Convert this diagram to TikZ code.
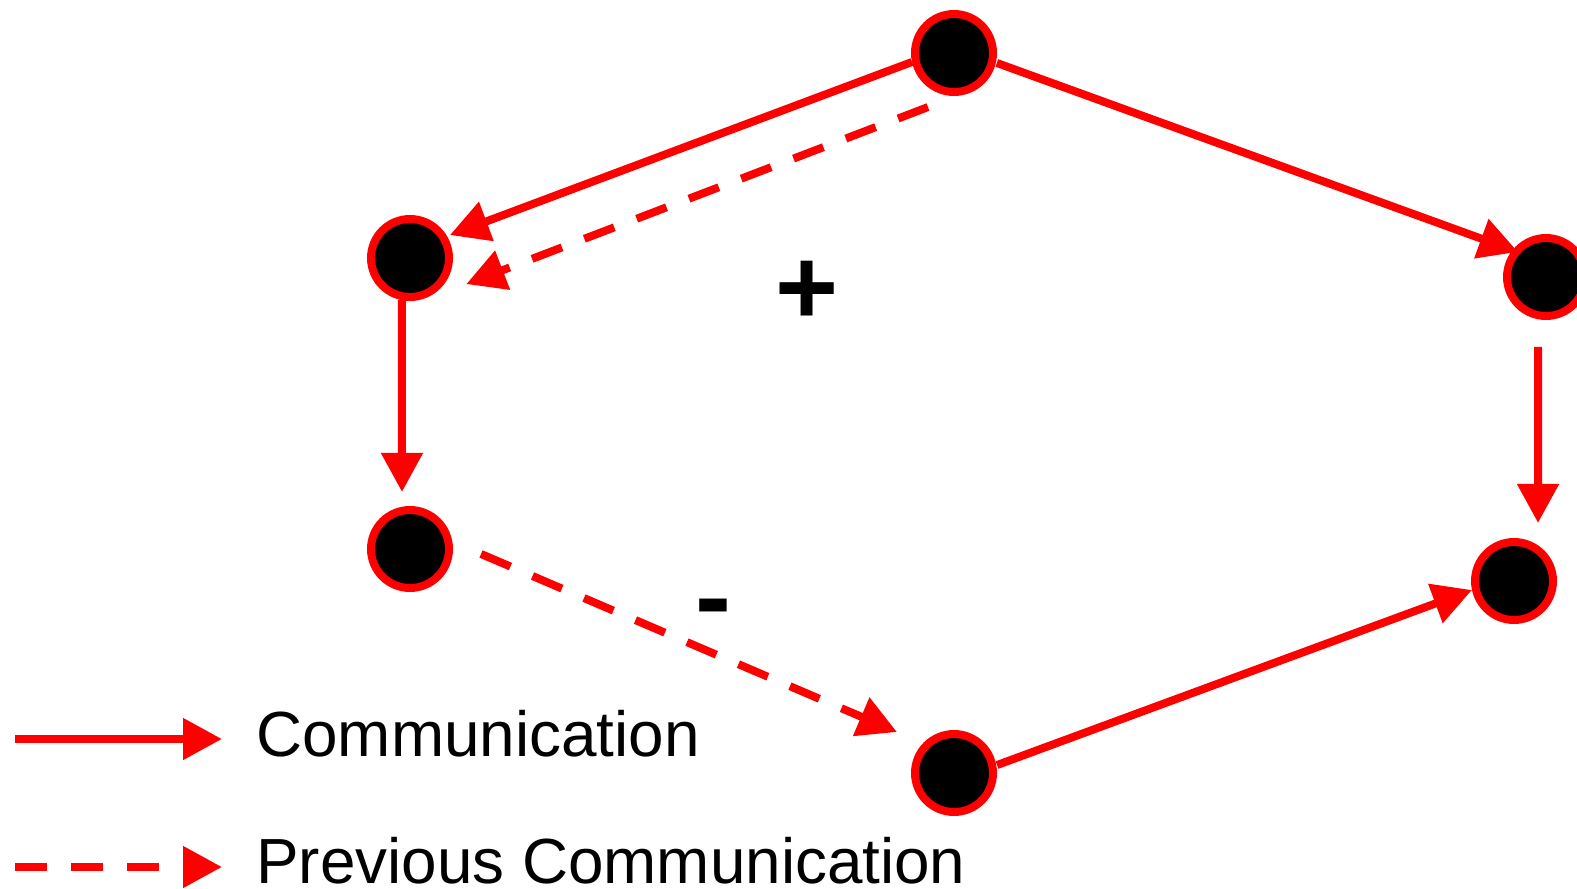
\documentclass[tikz,border=0pt]{standalone}
\usepackage{fontspec}
\setmainfont{Liberation Sans}
\usetikzlibrary{arrows.meta,calc}
\begin{document}
\begin{tikzpicture}[x=0.5pt,y=-0.5pt,
  agent/.style={circle,draw=red,fill=black,line width=4pt,minimum size=39pt,inner sep=0pt},
  comm/.style={draw=red,line width=4pt,-{Triangle[length=19.5pt,width=20pt]}},
  prevcomm/.style={comm,dash pattern=on 16pt off 12pt},
  legendtext/.style={anchor=base west,inner sep=0pt,font=\fontsize{31.9pt}{38pt}\selectfont},
  sign/.style={font=\bfseries\fontsize{54pt}{64pt}\selectfont,inner sep=0pt}]

\useasboundingbox (0,0) rectangle (1577,888);

% agents
\node[agent] (top) at (954,53) {};
\node[agent] (lu)  at (410,258) {};
\node[agent] (ll)  at (410,549) {};
\node[agent] (bot) at (954,773) {};
\node[agent] (ru)  at (1546,277) {};
\node[agent] (rl)  at (1514,581) {};

% communications
\draw[comm] ($(top)+(192.1:21.5pt)$) -- ($(lu)+(29.9:23pt)$);
\draw[prevcomm] ($(top)+(244.3:30pt)$) -- ($(lu)+(-24.9:31pt)$);
\draw[comm] ($(lu)+(259.2:21.4pt)$) -- ($(ll)+(98:28.8pt)$);
\draw[prevcomm] ($(ll)+(-4:35.6pt)$) -- ($(bot)+(144.3:35.1pt)$);
\draw[comm] ($(bot)+(10.5:21.9pt)$) -- ($(rl)+(192.1:21.5pt)$);
\draw[comm] ($(top)+(-13.1:22pt)$) -- ($(ru)+(138.2:18.8pt)$);
\draw[comm] ($(ru)+(263.5:35.2pt)$) -- ($(rl)+(67.5:31.4pt)$);

% signs
\node[sign] (plus) at (807,293) {+};
\node[sign] (minus) at (713,616) {-};

% legend
\coordinate (ls1) at (15,739);
\coordinate (le1) at (222,739);
\coordinate (ls2) at (15,867);
\coordinate (le2) at (222,867);
\draw[comm] (ls1) -- (le1);
\draw[prevcomm] (ls2) -- (le2);
\node[legendtext] (lt1) at (256,756) {Communication};
\node[legendtext] (lt2) at (256,883) {Previous Communication};
\end{tikzpicture}
\end{document}
